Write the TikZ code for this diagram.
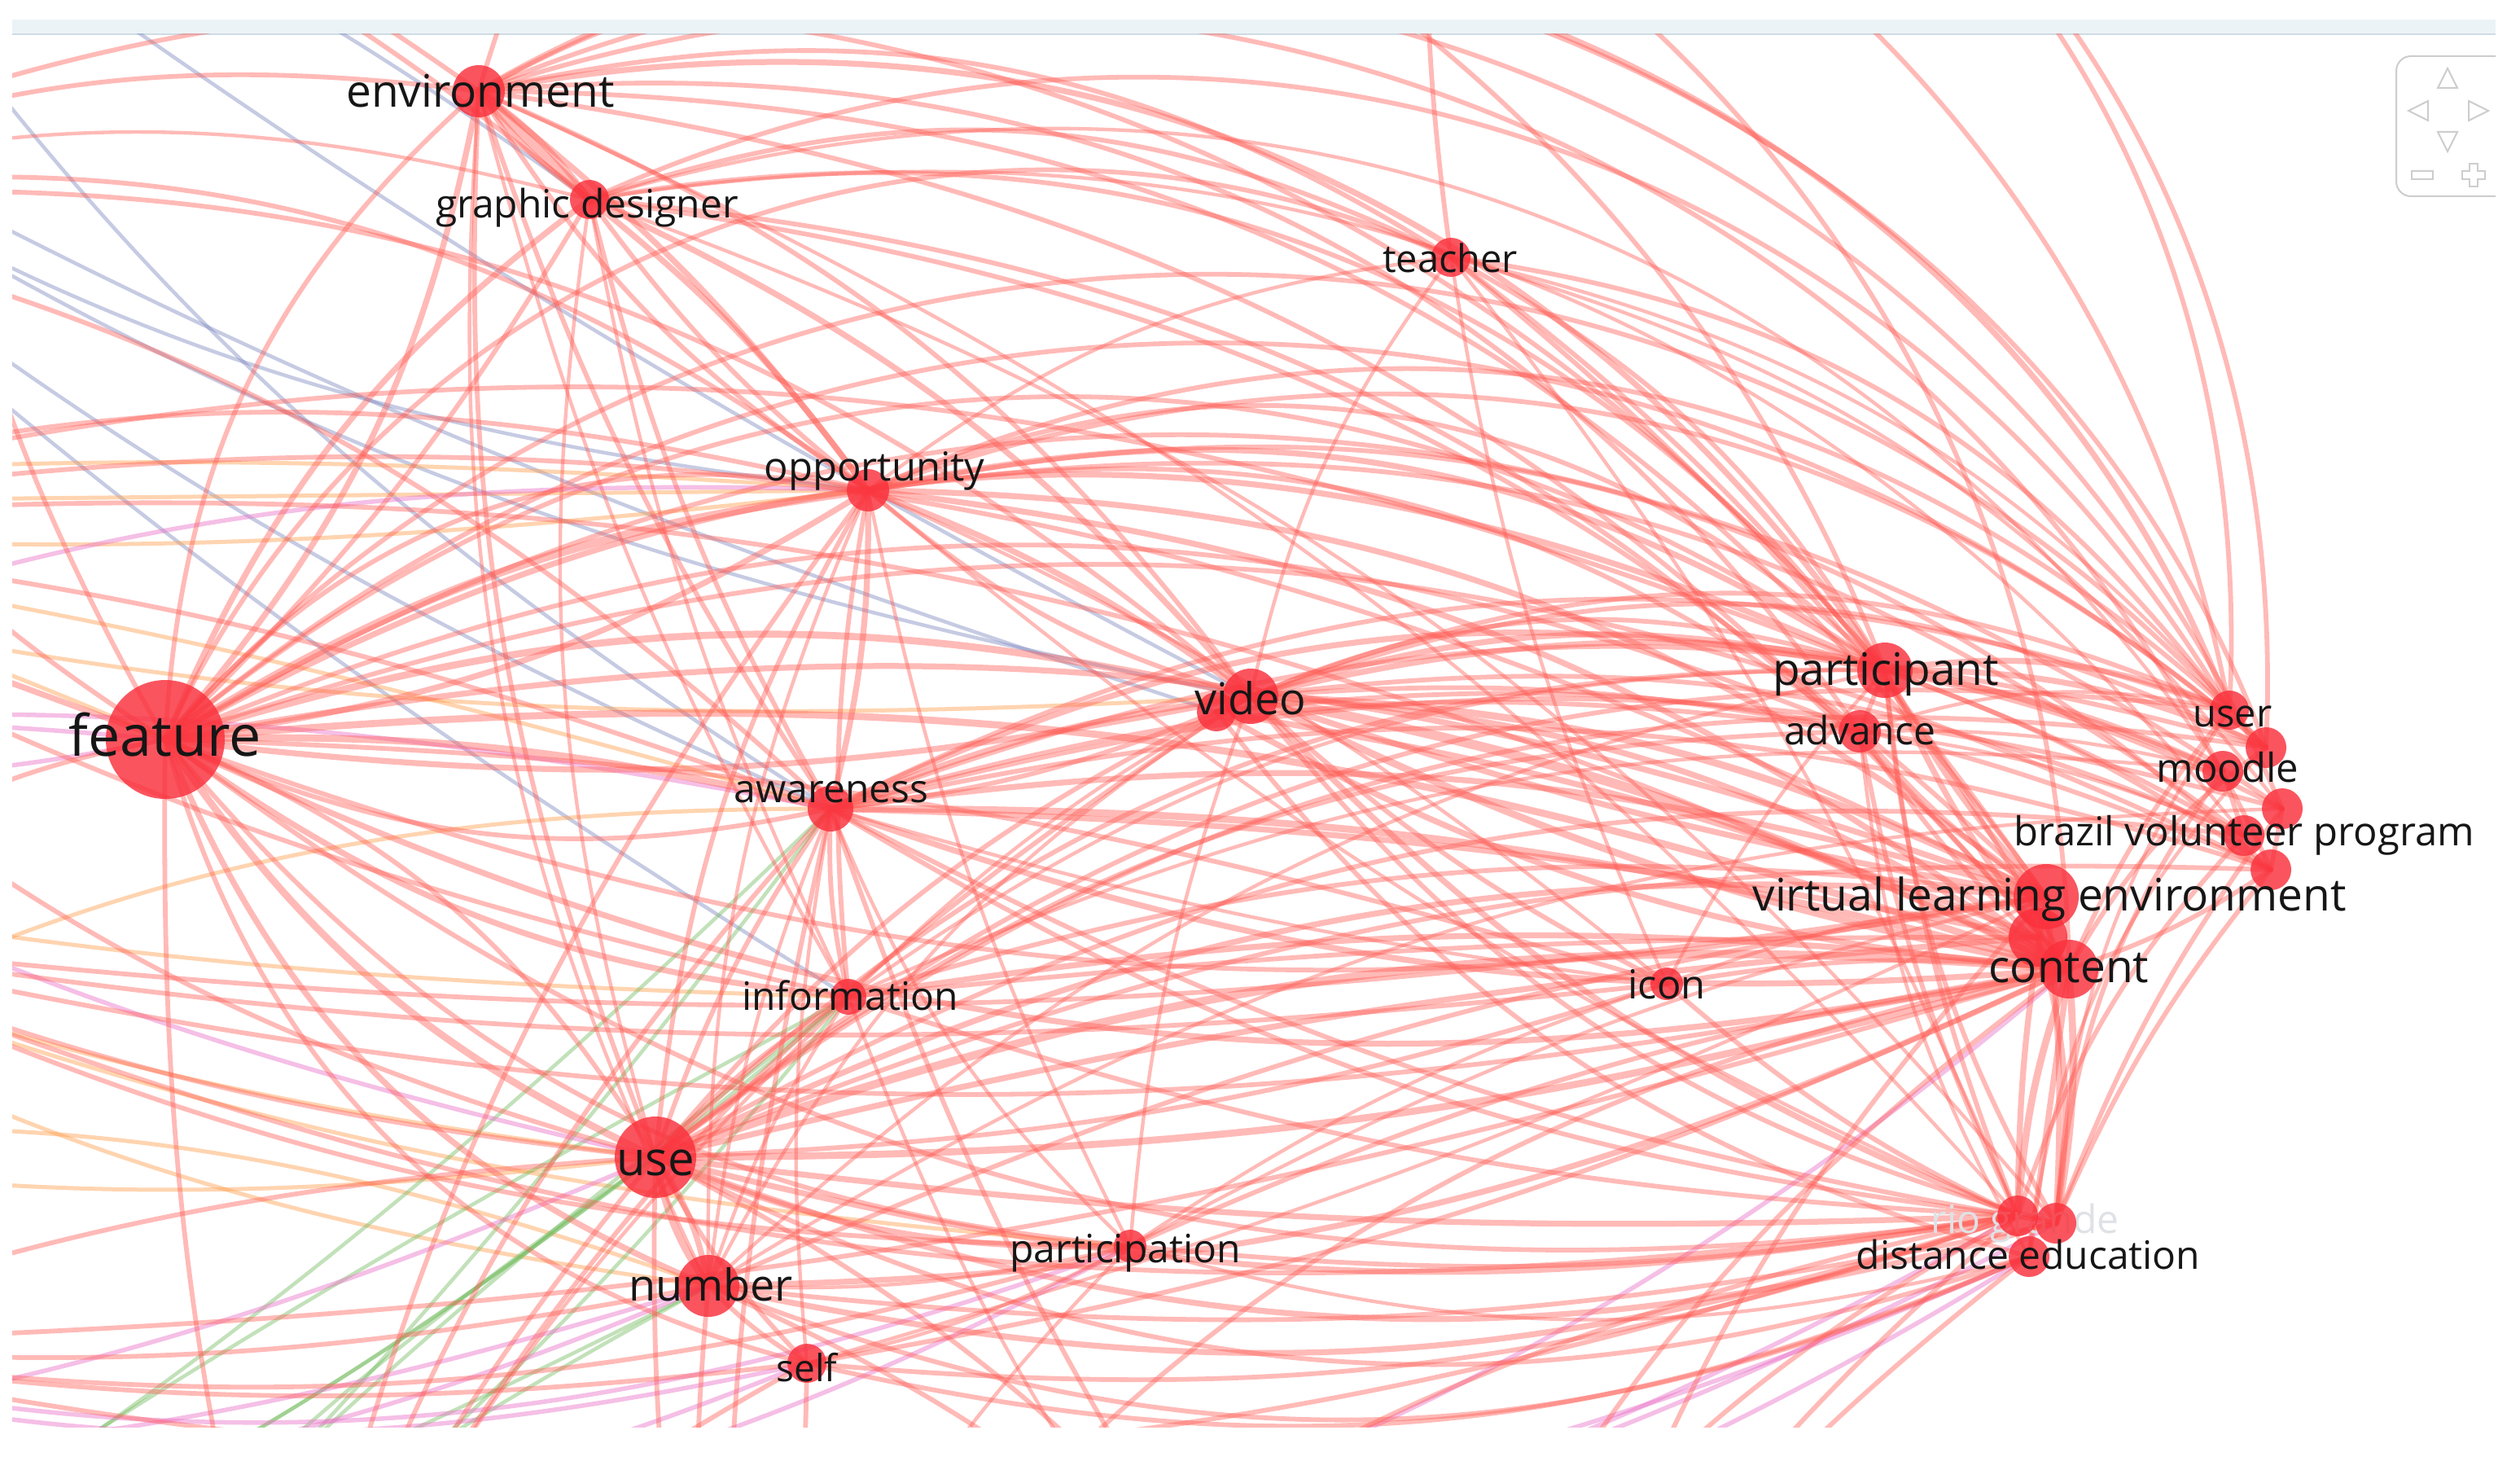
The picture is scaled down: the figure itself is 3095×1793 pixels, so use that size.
\documentclass[tikz,border=0pt]{standalone}
\usepackage{fontspec}
\setmainfont{Open Sans}
\definecolor{edgecol}{RGB}{255,92,84}
\definecolor{nodecol}{RGB}{250,48,60}
\definecolor{labcol}{RGB}{22,22,22}
\definecolor{bandcol}{RGB}{236,243,247}
\definecolor{bandline}{RGB}{206,219,228}
\definecolor{bluecol}{RGB}{130,140,195}
\definecolor{orangecol}{RGB}{255,160,80}
\definecolor{greencol}{RGB}{120,190,100}
\definecolor{pinkcol}{RGB}{235,115,200}
\definecolor{ghost}{RGB}{222,226,230}
\definecolor{widget}{RGB}{205,205,205}
\pgfdeclarelayer{bg}
\pgfsetlayers{bg,main}
\begin{document}
\begin{tikzpicture}[x=0.1pt,y=-0.1pt,
  lnk/.style={draw=edgecol, draw opacity=0.42, line cap=round},
  clnk/.style={draw=#1, draw opacity=0.45, line cap=round},
  dot/.style={circle, fill=nodecol, fill opacity=0.82, draw=none, inner sep=0pt, minimum size=#1},
  lbl/.style={inner sep=0pt, anchor=mid, text=labcol, font=\fontsize{#1}{#1}\selectfont},
]
\useasboundingbox (0,0) rectangle (3095,1793);

% nodes (circles)
\node[dot=14.6pt] (F) at (203,908) {};
\node[dot=6.4pt] (E) at (588,112) {};
\node[dot=4.8pt] (G) at (724,245) {};
\node[dot=4.8pt] (T) at (1782,316) {};
\node[dot=5.2pt] (O) at (1066,602) {};
\node[dot=6.8pt] (V) at (1536,855) {};
\node[dot=4.8pt] (V2) at (1494,874) {};
\node[dot=5.6pt] (A) at (1020,993) {};
\node[dot=4.4pt] (I) at (1042,1224) {};
\node[dot=10pt] (U) at (805,1421) {};
\node[dot=7.6pt] (N) at (870,1579) {};
\node[dot=4.8pt] (S) at (991,1674) {};
\node[dot=4pt] (P) at (1388,1530) {};
\node[dot=4pt] (IC) at (2047,1208) {};
\node[dot=6.8pt] (PA) at (2315,823) {};
\node[dot=5.2pt] (AD) at (2284,898) {};
\node[dot=4.8pt] (US) at (2738,872) {};
\node[dot=5pt] (M1) at (2783,918) {};
\node[dot=5pt] (M2) at (2730,947) {};
\node[dot=5pt] (B1) at (2803,993) {};
\node[dot=5pt] (B2) at (2756,1026) {};
\node[dot=8pt] (VL) at (2513,1101) {};
\node[dot=5pt] (VL2) at (2789,1068) {};
\node[dot=7.2pt] (CO) at (2541,1190) {};
\node[dot=7.2pt] (CO2) at (2503,1151) {};
\node[dot=5pt] (D1) at (2478,1493) {};
\node[dot=5pt] (D2) at (2525,1502) {};
\node[dot=5pt] (D3) at (2492,1543) {};

% off-screen endpoints
\coordinate (L1) at (-400,250);
\coordinate (L2) at (-500,650);
\coordinate (L3) at (-300,1150);
\coordinate (L4) at (-350,1650);
\coordinate (Bo1) at (350,2150);
\coordinate (Bo2) at (900,2300);
\coordinate (Bo3) at (1700,2250);
\coordinate (Bo4) at (1900,2150);
\coordinate (To1) at (900,-400);
\coordinate (To2) at (1800,-500);
\coordinate (To3) at (-100,-250);
\coordinate (Xb) at (-600,-50);
\coordinate (Xb2) at (-300,-300);
\coordinate (Xo) at (-800,620);
\coordinate (Xo2) at (-500,1400);
\coordinate (Xo3) at (-600,1050);
\coordinate (Xg) at (-400,2100);
\coordinate (Xg2) at (-100,2250);
\coordinate (Xp) at (-700,1800);
\coordinate (Xp2) at (-600,900);
\coordinate (Xp3) at (-600,1600);

\begin{pgfonlayer}{bg}
\fill[white] (0,0) rectangle (3095,1793);
\fill[bandcol] (15,24) rectangle (3065,42);
\draw[bandline, line width=0.2pt] (15,42) -- (3065,42);
\begin{scope}
\clip (15,42) rectangle (3065,1752);
% other clusters
\foreach \p/\q/\k in {Xb/V/-8, Xb/V2/-4, Xb/A/-6, Xb/O/-10, Xb2/V/-3, Xb2/A/-8, Xb2/G/5, Xb/I/-4}
 {\pgfmathsetmacro\kk{1.5*\k}
 \draw[clnk=bluecol, line width=0.45pt] (\p.center) to[bend left=\kk] (\q.center);}
\foreach \p/\q/\k in {Xo/O/-4, Xo/O/3, Xo/O/0, Xo/V/-6, Xo/F/5, Xo/A/3, Xo2/U/-5, Xo2/N/8, Xo2/A/10,
  Xo3/U/-5, Xo3/I/-3, Xo3/N/-8, Xo3/P/-6}
 {\pgfmathsetmacro\kk{1.5*\k}
 \draw[clnk=orangecol, line width=0.5pt] (\p.center) to[bend left=\kk] (\q.center);}
\foreach \p/\q/\k in {Xg/U/-5, Xg/A/-4, Xg/I/-6, Xg/I/2, Xg2/A/-3, Xg2/U/5, Xg2/I/-6, Xg2/I/3, Xg/N/-3, Xg2/N/4}
 {\pgfmathsetmacro\kk{1.5*\k}
 \draw[clnk=greencol, line width=0.45pt] (\p.center) to[bend left=\kk] (\q.center);}
\foreach \p/\q/\k in {Xp/U/-6, Xp/N/-10, Xp/S/-12, Xp/D3/-18, Xp/P/-14, Xp2/F/3, Xp2/F/-8, Xp/D1/-16,
  Xp/D2/-15, Xp/CO/-20, Xp/N/-6, Xp3/S/-10, Xp3/P/-12, Xp3/D3/-15, Xp2/A/5, Xp2/O/8, Xp2/U/-5}
 {\pgfmathsetmacro\kk{1.5*\k}
 \draw[clnk=pinkcol, line width=0.55pt] (\p.center) to[bend left=\kk] (\q.center);}
% red links
\foreach \p/\q/\k/\w in {
 F/E/-10/5, F/E/15/4, F/G/10/5, F/G/-5/4, F/O/8/7, F/O/-8/5, F/O/20/4, F/V/10/6, F/V/-6/5, F/A/5/6, F/A/-12/4,
 F/I/-10/5, F/U/-10/6, F/U/12/4, F/N/-15/5, F/S/-20/4, F/P/-15/4, F/PA/18/5, F/PA/25/4, F/AD/15/4, F/US/32/4,
 F/M1/27/4, F/B1/22/4, F/VL/10/5, F/VL/-10/4, F/CO/8/6, F/CO/-12/5, F/D1/-15/4, F/T/30/4, F/IC/5/4, F/VL2/15/4,
 E/G/0/8, E/G/6/5, E/G/-6/5, E/O/5/5, E/O/-8/4, E/V/10/4, E/A/-5/4, E/T/15/4, E/PA/22/5, E/US/35/5, E/M1/33/4,
 E/B1/30/4, E/VL/18/4, E/CO/14/4, E/U/-8/4, E/I/-5/3, E/D1/8/3, E/AD/20/4, E/N/-10/3, E/VL2/28/4,
 G/O/5/5, G/O/-5/4, G/A/-5/4, G/V/8/5, G/T/15/4, G/PA/20/4, G/US/28/4, G/CO/15/4, G/VL/12/4, G/U/-8/3,
 G/I/-5/3, G/M2/24/3, G/D2/10/3, G/B2/20/3,
 T/PA/10/4, T/CO/8/4, T/VL/5/4, T/US/15/4, T/M1/12/3, T/IC/-5/3, T/D1/5/3, T/O/-10/3, T/V/-8/3, T/B1/12/3,
 O/V/5/5, O/V/-8/4, O/A/5/5, O/I/-5/4, O/U/-8/4, O/PA/15/5, O/PA/22/4, O/AD/15/4, O/VL/12/5, O/CO/10/5,
 O/US/22/4, O/M1/20/4, O/B2/15/4, O/D1/-5/3, O/P/-5/3, O/N/-8/3, O/IC/5/3, O/VL2/18/4,
 V/CO/5/8, V/CO/-5/6, V/CO/10/5, V/VL/8/6, V/VL/-3/5, V/PA/10/5, V/AD/5/4, V/US/15/4, V/M2/12/5, V/B2/10/4,
 V/D1/-8/5, V/D2/-12/4, V/IC/-5/4, V/A/-5/5, V/U/-8/4, V/P/-5/3, V/I/-5/3, V/N/-10/3,
 V2/CO/-8/5, V2/VL2/10/4, V2/D3/-12/4, V2/A/5/4, V2/CO2/4/5, V2/PA/14/4, V2/M1/16/4,
 A/CO/5/6, A/CO/-8/5, A/VL/8/5, A/PA/12/5, A/AD/8/4, A/US/15/4, A/M1/12/4, A/B1/10/4, A/D1/-8/4, A/U/-5/4,
 A/I/-5/4, A/N/-5/3, A/IC/-3/3, A/P/-8/3, A/S/-5/3, A/CO2/3/5, A/VL2/10/4, A/D2/-6/4,
 I/U/-5/4, I/CO/5/5, I/VL/8/4, I/D1/-5/4, I/PA/12/3, I/N/-5/3, I/M2/10/3, I/CO2/2/4,
 U/CO/8/7, U/CO/-5/6, U/VL/10/5, U/D1/-8/5, U/D2/-12/5, U/D3/-15/4, U/PA/15/4, U/AD/12/4, U/N/-8/6, U/N/8/5,
 U/S/-5/4, U/P/-8/5, U/IC/-5/4, U/US/15/4, U/M1/15/4, U/B2/12/4, U/CO2/3/5, U/D1/-3/5, U/VL2/8/4,
 N/CO/-8/5, N/D1/-10/5, N/D3/-15/4, N/S/-5/4, N/P/-5/3, N/VL/5/4, N/PA/10/3, N/B1/10/3, N/D2/-6/4,
 S/D3/-12/4, S/CO/-5/4, S/P/-5/3, S/VL/-3/3, S/D1/-8/4,
 P/D1/-5/4, P/CO/5/4, P/D3/-10/3, P/VL/5/3, P/IC/5/3,
 IC/CO/5/4, IC/D1/-5/4, IC/VL/5/3, IC/PA/5/3,
 PA/US/10/5, PA/M1/8/5, PA/M2/5/5, PA/B1/5/4, PA/B2/3/4, PA/VL/-5/5, PA/CO/-5/5, PA/D1/-5/4, PA/D2/-8/4,
 PA/AD/0/4, PA/VL2/5/4,
 AD/CO/-5/4, AD/D1/-5/4, AD/VL/-5/4, AD/US/10/3, AD/M2/5/3, AD/B2/5/3, AD/D3/-8/3,
 US/CO/-5/4, M1/CO/-8/4, M2/D2/-10/4, B1/D2/-5/4, B2/D1/-8/4, VL/D1/-3/5, VL/D2/3/5, CO/D1/-5/6, CO/D2/5/6,
 CO/D3/0/5, CO2/D2/8/5, VL2/D2/-5/4, VL2/CO/5/4, US/M1/0/4, M2/B2/0/4, B1/VL2/0/4, US/D2/-10/3, M1/D3/-12/3,
 L1/F/-10/4, L1/E/10/4, L1/O/15/4, L1/V/15/4, L1/PA/25/4, L2/F/0/5, L2/O/10/4, L2/A/5/4, L2/CO/10/4,
 L2/VL/12/4, L3/F/10/4, L3/U/-5/4, L3/CO/-8/4, L3/D1/-10/4, L4/U/5/4, L4/N/-5/4, L4/D1/-10/4, L4/CO/-5/4,
 L2/U/-10/4, L2/I/-5/4, L1/A/10/4, L3/P/-8/4, L3/IC/-5/4, L2/PA/12/4, L3/VL/-5/4, L1/G/10/3, L4/S/-5/4, L4/P/-8/4,
 Bo1/F/5/4, Bo1/U/5/4, Bo1/A/8/4, Bo1/V/10/4, Bo2/U/5/4, Bo2/N/5/4, Bo2/A/5/4, Bo2/CO/15/4, Bo2/D1/10/4,
 Bo3/D1/10/4, Bo3/CO/10/4, Bo3/N/-10/4, Bo3/U/-10/4, Bo4/D1/5/4, Bo4/D3/5/4, Bo4/VL/8/4,
 To1/E/-10/4, To1/US/30/4, To1/CO/30/4, To2/US/25/4, To2/M1/25/4, To2/T/-6/4, To3/E/5/4, To3/G/5/4,
 To3/F/-10/4, To3/PA/30/4, Bo1/S/5/4, Bo2/S/-5/4, Bo1/I/6/3, Bo2/P/8/3, Bo1/O/8/4, Bo3/A/6/4, Bo3/I/8/3}
 {\pgfmathsetmacro\kk{max(min(1.5*\k,50),-50)}
 \draw[lnk, line width=\w*0.145pt] (\p.center) to[bend left=\kk] (\q.center);}
\end{scope}
% ghost label
\node[lbl=4.8, text=ghost] (rg) at (2487,1488) {rio grande};
\end{pgfonlayer}

% labels
\node[lbl=5.5] (lE) at (590,105) {environment};
\node[lbl=4.8] (lG) at (721,241) {graphic designer};
\node[lbl=4.7] (lT) at (1781,308) {teacher};
\node[lbl=4.9] (lO) at (1074,564) {opportunity};
\node[lbl=7] (lF) at (203,902) {feature};
\node[lbl=5.4] (lV) at (1536,851) {video};
\node[lbl=4.8] (lA) at (1021,959) {awareness};
\node[lbl=4.8] (lI) at (1044,1214) {information};
\node[lbl=5.8] (lU) at (805,1417) {use};
\node[lbl=5.4] (lN) at (873,1571) {number};
\node[lbl=4.6] (lS) at (991,1670) {self};
\node[lbl=4.8] (lP) at (1382,1524) {participation};
\node[lbl=4.9] (lIC) at (2047,1200) {icon};
\node[lbl=5.5] (lPA) at (2316,815) {participant};
\node[lbl=4.8] (lAD) at (2284,888) {advance};
\node[lbl=4.7] (lUS) at (2742,866) {user};
\node[lbl=4.9] (lM) at (2736,934) {moodle};
\node[lbl=4.9] (lB) at (2756,1012) {brazil volunteer program};
\node[lbl=5.5] (lVL) at (2517,1092) {virtual learning environment};
\node[lbl=5.5] (lCO) at (2541,1180) {content};
\node[lbl=4.8] (lD) at (2491,1532) {distance education};

% navigation widget
\begin{scope}
\clip (2900,50) rectangle (3065,260);
\draw[widget, line width=0.2pt, rounded corners=1.8pt] (2943,69) rectangle (3090,241);
\end{scope}
\draw[widget, line width=0.2pt] (2994,108) -- (3006,84) -- (3018,108) -- cycle;
\draw[widget, line width=0.2pt] (2982,124) -- (2958,136) -- (2982,148) -- cycle;
\draw[widget, line width=0.2pt] (3032,124) -- (3056,136) -- (3032,148) -- cycle;
\draw[widget, line width=0.2pt] (2994,162) -- (3018,162) -- (3006,186) -- cycle;
\draw[widget, line width=0.2pt] (2962,210) rectangle (2988,220);
\draw[widget, line width=0.2pt] (3033,201) -- (3043,201) -- (3043,210) -- (3052,210) -- (3052,220) -- (3043,220) -- (3043,229) -- (3033,229) -- (3033,220) -- (3024,220) -- (3024,210) -- (3033,210) -- cycle;
\end{tikzpicture}
\end{document}
